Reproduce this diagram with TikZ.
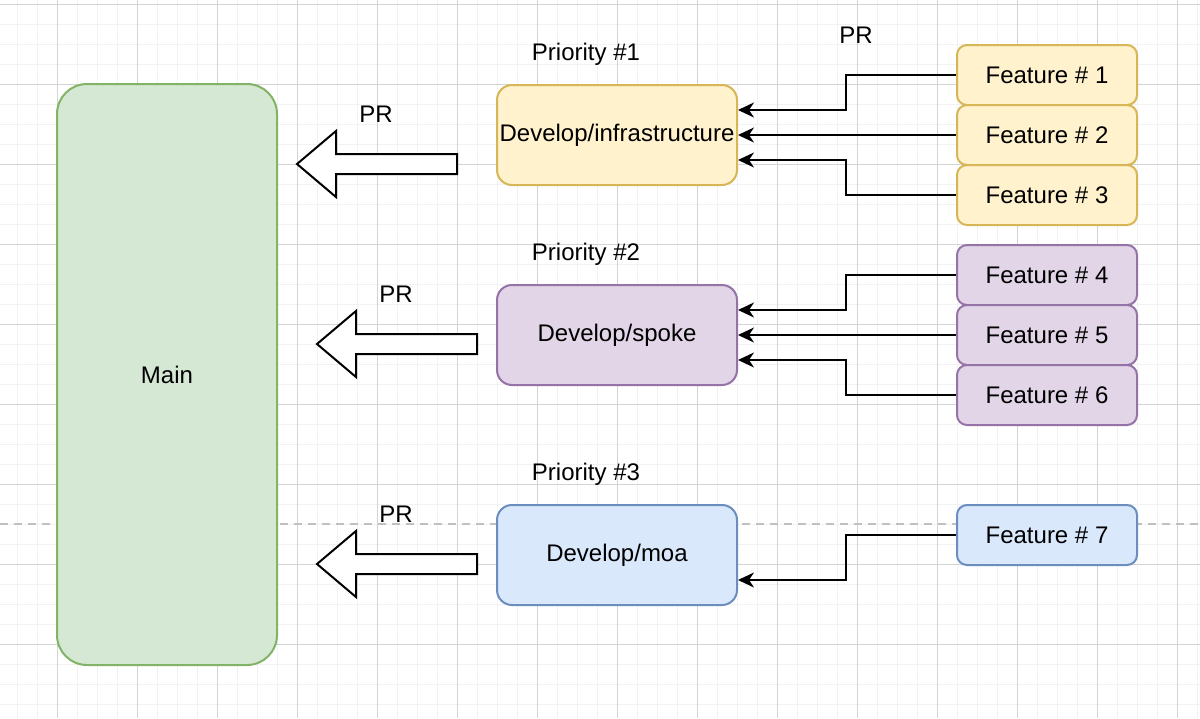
\documentclass[tikz,border=0pt]{standalone}
\usepackage{fontspec}
\setmainfont{Liberation Sans}
\usetikzlibrary{arrows.meta,calc}
\definecolor{gfill}{HTML}{D5E8D4}\definecolor{gline}{HTML}{82B366}
\definecolor{yfill}{HTML}{FFF2CC}\definecolor{yline}{HTML}{D6B656}
\definecolor{pfill}{HTML}{E1D5E7}\definecolor{pline}{HTML}{9673A6}
\definecolor{bfill}{HTML}{DAE8FC}\definecolor{bline}{HTML}{6C8EBF}
\definecolor{minorg}{HTML}{F2F2F2}\definecolor{majorg}{HTML}{D4D4D4}
\definecolor{pagebrk}{HTML}{C0C0C0}
\begin{document}
\begin{tikzpicture}[x=0.5pt,y=-0.5pt,
  every node/.style={font=\fontsize{12pt}{14pt}\selectfont, inner sep=0pt},
  devbox/.style={draw, line width=1pt, rounded corners=7.5pt, minimum width=120pt, minimum height=50pt},
  featbox/.style={draw, line width=1pt, rounded corners=5pt, minimum width=90pt, minimum height=30pt},
  conn/.style={draw, line width=1pt, -{Stealth[length=8pt,width=7.5pt,inset=2.5pt]}},
  blockarrow/.style={draw, line width=1pt, fill=white, line join=miter},
  lbl/.style={}]
\useasboundingbox (0,0) rectangle (1200,718);
\fill[white] (0,0) rectangle (1200,718);
% grid
\foreach \x in {17,37,...,1197} \draw[minorg, line width=0.5pt] (\x,0) -- (\x,718);
\foreach \y in {4,24,...,718} \draw[minorg, line width=0.5pt] (0,\y) -- (1200,\y);
\foreach \x in {57,137,...,1197} \draw[majorg, line width=0.5pt] (\x,0) -- (\x,718);
\foreach \y in {4,84,...,718} \draw[majorg, line width=0.5pt] (0,\y) -- (1200,\y);
% page break line
\draw[pagebrk, line width=1pt, dash pattern=on 4pt off 3pt] (0,524) -- (1200,524);
% main
\node[draw=gline, fill=gfill, line width=1pt, rounded corners=15pt, minimum width=110pt, minimum height=290.5pt] (main) at (167,374.5) {Main};
% develop boxes
\node[devbox, draw=yline, fill=yfill] (infra) at (617,135) {Develop/infrastructure};
\node[devbox, draw=pline, fill=pfill] (spoke) at (617,335) {Develop/spoke};
\node[devbox, draw=bline, fill=bfill] (moa) at (617,555) {Develop/moa};
% features
\node[featbox, draw=yline, fill=yfill] (f1) at (1047,75) {Feature \# 1};
\node[featbox, draw=yline, fill=yfill] (f2) at (1047,135) {Feature \# 2};
\node[featbox, draw=yline, fill=yfill] (f3) at (1047,195) {Feature \# 3};
\node[featbox, draw=pline, fill=pfill] (f4) at (1047,275) {Feature \# 4};
\node[featbox, draw=pline, fill=pfill] (f5) at (1047,335) {Feature \# 5};
\node[featbox, draw=pline, fill=pfill] (f6) at (1047,395) {Feature \# 6};
\node[featbox, draw=bline, fill=bfill] (f7) at (1047,535) {Feature \# 7};
% labels
\node[lbl] (pr0) at (856,35) {PR};
\node[lbl] (pr1) at (376,114) {PR};
\node[lbl] (pr2) at (396,294) {PR};
\node[lbl] (pr3) at (396,514) {PR};
\node[lbl] (pri1) at (586,54) {Priority \#1};
\node[lbl] (pri2) at (586,254) {Priority \#2};
\node[lbl] (pri3) at (586,474) {Priority \#3};
% block arrows
\foreach \tx/\ty in {297/164, 317/344, 317/564} {
  \draw[blockarrow] (\tx,\ty) -- ++(39,-33) -- ++(0,23) -- ++(121,0) -- ++(0,20) -- ++(-121,0) -- ++(0,23) -- cycle;
}
% connectors
\draw[conn] (f1.west) -- ++(-110,0) |- ($(infra.east)+(0,-25)$);
\draw[conn] (f2.west) -- (infra.east);
\draw[conn] (f3.west) -- ++(-110,0) |- ($(infra.east)+(0,25)$);
\draw[conn] (f4.west) -- ++(-110,0) |- ($(spoke.east)+(0,-25)$);
\draw[conn] (f5.west) -- (spoke.east);
\draw[conn] (f6.west) -- ++(-110,0) |- ($(spoke.east)+(0,25)$);
\draw[conn] (f7.west) -- ++(-110,0) |- ($(moa.east)+(0,25)$);
\end{tikzpicture}
\end{document}
